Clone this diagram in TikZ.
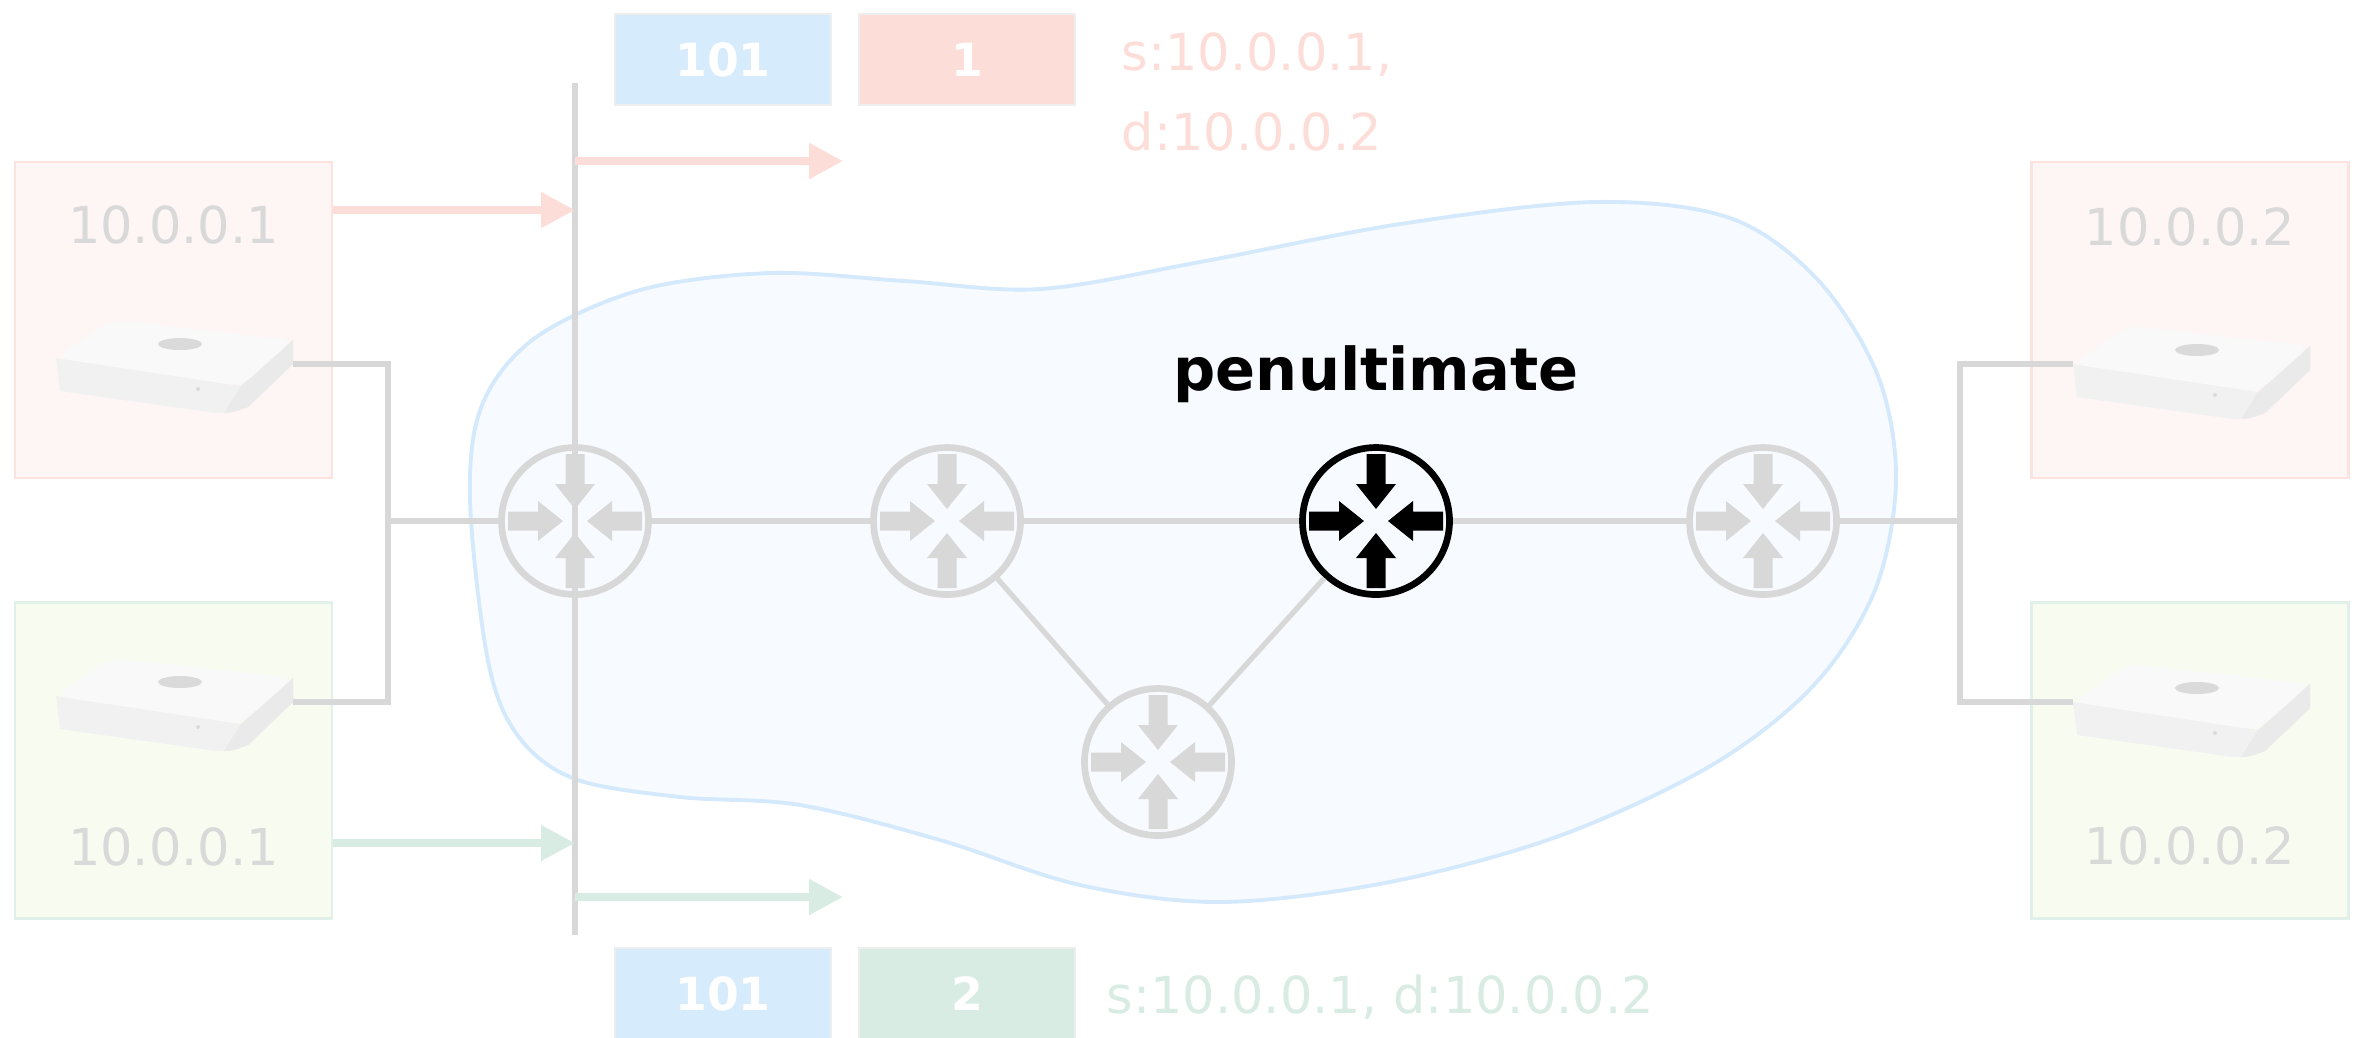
\documentclass[tikz,border=0pt]{standalone}
\usepackage{fontspec}
\setmainfont{DejaVu Sans}
\usetikzlibrary{arrows.meta}

\definecolor{linegray}{HTML}{D8D8D8}
\definecolor{iptext}{HTML}{D9D9D9}
\definecolor{redfill}{HTML}{FDF6F5}
\definecolor{rededge}{HTML}{FCE3DF}
\definecolor{greenfill}{HTML}{F8FCF0}
\definecolor{greenedge}{HTML}{E1F0E9}
\definecolor{pktred}{HTML}{FDDDD8}
\definecolor{pktgreen}{HTML}{D9ECE3}
\definecolor{tagblue}{HTML}{D6EBFC}
\definecolor{tagedge}{HTML}{EEEEEE}
\definecolor{cloudfill}{HTML}{F7FAFE}
\definecolor{cloudedge}{HTML}{D4E9FC}
\definecolor{mactop}{HTML}{F9F9F9}
\definecolor{macfront}{HTML}{F1F1F1}
\definecolor{macside}{HTML}{EAEAEA}
\definecolor{applegray}{HTML}{DADADA}

\tikzset{
  link/.style={draw=linegray, line width=1.5pt},
  cloud/.style={draw=cloudedge, fill=cloudfill, line width=1.1pt},
  router/.style={circle, draw=#1, line width=1.9pt, minimum size=1.47cm, inner sep=0pt},
  % the four arrows inside a router
  inarrows/.pic={
    \foreach \ang in {0,90,180,270}
      \fill[rotate=\ang] (0.67cm,0.095cm) -- (0.37cm,0.095cm) -- (0.37cm,0.2cm) -- (0.12cm,0cm)
        -- (0.37cm,-0.2cm) -- (0.37cm,-0.095cm) -- (0.67cm,-0.095cm) -- cycle;
  },
  hostbox/.style={rectangle, line width=0.6pt, minimum width=3.17cm, minimum height=3.16cm, inner sep=0pt},
  iplabel/.style={text=iptext, font=\fontsize{14.5}{17}\selectfont, anchor=base, inner sep=0pt},
  tagbox/.style={rectangle, draw=tagedge, line width=0.6pt, minimum width=2.16cm, minimum height=0.91cm,
    inner sep=0pt, text=white, font=\bfseries\fontsize{13}{15}\selectfont},
  hdr/.style={inner sep=0pt, font=\fontsize{14.5}{22.8}\selectfont},
  pkt/.style={line width=2.3pt, -{Triangle[length=3.4mm,width=3.4mm]}},
  mac/.pic={
    % front and side of the case
    \fill[macfront] (0,0) -- (4,33) -- (160,55) to[out=0,in=200] (192,49) -- (237,6) -- (237,-18) -- (185,28) -- cycle;
    \fill[macside] (185,28) -- (237,-18) -- (237,6) -- (192,49) to[out=200,in=0] (168,55) -- cycle;
    % lid
    \fill[mactop, rounded corners=1.2mm] (0,0) -- (55,-38) -- (237,-18) -- (185,28) -- cycle;
    \fill[applegray] (124,-14) ellipse [x radius=2.2mm, y radius=0.6mm];
    \fill[applegray] (142,31) circle [radius=0.2mm];
    \coordinate (-west) at (0,0);
    \coordinate (-east) at (237,6);
  }
}

\begin{document}
\begin{tikzpicture}[x=0.1mm, y=-0.1mm]
\useasboundingbox (0,0) rectangle (2356,1037);

% end hosts
\node[hostbox, draw=rededge, fill=redfill] (srcA) at (173.5,320) {};
\node[hostbox, draw=greenedge, fill=greenfill] (srcB) at (173.5,760.5) {};
\node[hostbox, draw=rededge, fill=redfill] (dstA) at (2190,320) {};
\node[hostbox, draw=greenedge, fill=greenfill] (dstB) at (2190,760.5) {};
\node[iplabel] (ipA) at (173.5,243) {10.0.0.1};
\node[iplabel] (ipB) at (173.5,865) {10.0.0.1};
\node[iplabel] (ipC) at (2190,245) {10.0.0.2};
\node[iplabel] (ipD) at (2190,864) {10.0.0.2};
\pic (macA) at (56,358) {mac};
\pic (macB) at (56,696) {mac};
\pic (macC) at (2073,364) {mac};
\pic (macD) at (2073,702) {mac};

% MPLS domain
\draw[cloud] plot[smooth cycle, tension=0.55] coordinates {(470,500) (482,405) (535,338)
  (640,290) (770,273) (905,281) (1040,289) (1200,262) (1400,224) (1595,202) (1730,218)
  (1818,280) (1878,376) (1896,480) (1875,590) (1814,685) (1712,765) (1559,836) (1390,882)
  (1222,902) (1080,885) (940,840) (800,805) (680,797) (575,779) (518,736) (488,661)};

% ingress cut
\coordinate (bartop) at (575,83);
\coordinate (barbot) at (575,935);
\draw[link] (bartop) -- (barbot);

% routers
\node[router=linegray] (rA) at (575,521) {};
\node[router=linegray] (rB) at (947,521) {};
\node[router=black] (rC) at (1376,521) {};
\node[router=linegray] (rD) at (1763,521) {};
\node[router=linegray] (rE) at (1158,762) {};
\foreach \r in {rA,rB,rD,rE}
  \pic[linegray] at (\r) {inarrows};
\pic[black] at (rC) {inarrows};
\node[font=\bfseries\fontsize{16.8}{20}\selectfont, anchor=base] (penlabel) at (1376,390) {penultimate};

% links
\coordinate (jl) at (388,521);
\coordinate (jr) at (1960,521);
\draw[link] (macA-east) -| (jl) |- (macB-east);
\draw[link] (jl) -- (rA);
\draw[link] (rA) -- (rB);
\draw[link] (rB) -- (rC);
\draw[link] (rC) -- (rD);
\draw[link] (rB) -- (rE);
\draw[link] (rE) -- (rC);
\draw[link] (rD) -- (jr);
\draw[link] (macC-west) -| (jr) |- (macD-west);

% packets
\coordinate (redout) at (843,161);
\coordinate (greenout) at (843,897);
\draw[pkt, pktred] (srcA.east |- 0,210) -- (bartop |- 0,210);
\draw[pkt, pktred] (bartop |- redout) -- (redout);
\draw[pkt, pktgreen] (srcB.east |- 0,843) -- (bartop |- 0,843);
\draw[pkt, pktgreen] (bartop |- greenout) -- (greenout);

% labels
\node[tagbox, fill=tagblue] (lblA) at (723,59.5) {101};
\node[tagbox, fill=pktred] (seqA) at (967,59.5) {1};
\node[hdr, text=pktred, align=left, anchor=north west] (hdrA) at (1121,32) {s:10.0.0.1,\\d:10.0.0.2};
\node[tagbox, fill=tagblue] (lblB) at (723,993.5) {101};
\node[tagbox, fill=pktgreen] (seqB) at (967,993.5) {2};
\node[hdr, text=pktgreen, anchor=base west] (hdrB) at (1106,1013) {s:10.0.0.1, d:10.0.0.2};
\end{tikzpicture}
\end{document}
